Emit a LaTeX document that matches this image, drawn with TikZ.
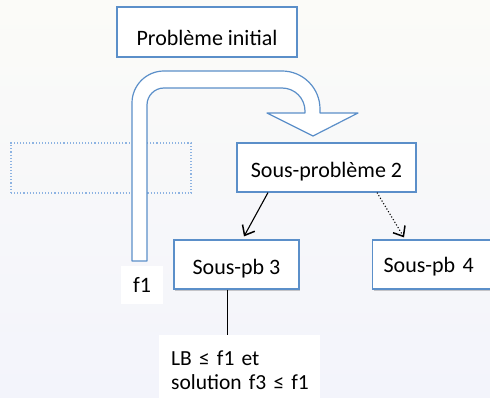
\documentclass[tikz,border=0pt]{standalone}
\usepackage{fontspec}
\setmainfont{Carlito}
\usetikzlibrary{arrows.meta,shadows}
\definecolor{boxblue}{HTML}{5B8FC9}
\definecolor{dotblue}{HTML}{8DB3E2}
\definecolor{bgtop}{HTML}{FBFBF8}
\definecolor{bgbot}{HTML}{F3F4FB}
\tikzset{
  x=1pt,y=1pt,
  box/.style={draw=boxblue, fill=white, line width=1.2pt, inner sep=0pt,
    drop shadow={shadow xshift=1pt, shadow yshift=-1.5pt, opacity=0.2, fill=black}},
  lbl/.style={font=\fontsize{22}{24}\selectfont},
  plain/.style={fill=white, inner sep=0pt},
  conn/.style={line width=1.1pt, -{Straight Barb[length=8.5pt,width=14pt,line width=1.5pt]}},
}
\begin{document}
\begin{tikzpicture}
\shade[top color=bgtop, bottom color=bgbot] (0,0) rectangle (490,-398);
\useasboundingbox (0,0) rectangle (490,-398);
% dotted box
\node[draw=dotblue, dotted, line width=1.1pt, minimum width=180, minimum height=50, inner sep=0pt] (dots) at (101,-168) {};
% bent arrow
\draw[boxblue, fill=white, line width=1.2pt, line join=round]
  (132,-261) -- (132,-103) arc[start angle=180, end angle=90, radius=32]
  -- (282,-71) arc[start angle=90, end angle=0, radius=38]
  -- (320,-113) -- (358,-113) -- (313,-136) -- (267,-113) -- (305,-113)
  -- (305,-111) arc[start angle=0, end angle=90, radius=23]
  -- (164,-88) arc[start angle=90, end angle=180, radius=17]
  -- (147,-261) -- cycle;
% boxes
\node[box, lbl, minimum width=180, minimum height=50, text height=31.5pt, text depth=4pt] (init) at (207,-32) {Problème initial};
\node[box, lbl, minimum width=179, minimum height=49, text height=23.5pt, text depth=4pt] (sp2) at (326.5,-167.5) {Sous-problème 2};
\node[box, lbl, minimum width=125, minimum height=49, text height=23.5pt, text depth=4pt] (sp3) at (236.5,-264.5) {Sous-pb 3};
\node[box, lbl, anchor=west, minimum height=49, inner xsep=11pt, text width=110pt, align=left, text height=19.5pt, text depth=4pt] (sp4) at (372,-264.5) {Sous-pb 4};
\node[plain, lbl, minimum width=42, minimum height=38] (f1) at (142,-285) {f1};
\node[plain, anchor=north west, inner xsep=12pt, inner ysep=10pt, text width=137pt, align=left, font=\fontsize{21.5}{24}\selectfont, minimum height=70] (res) at (159,-335) {\mbox{LB ≤ f1 et}\\\mbox{solution f3 ≤ f1}};
% connectors
\draw[conn] ([xshift=-58.5pt]sp2.south) -- ([xshift=7.5pt,yshift=3pt]sp3.north);
\draw[conn, dotted] ([xshift=50.5pt]sp2.south) -- ([xshift=32pt,yshift=2pt]sp4.north west);
\draw[line width=1pt] ([xshift=-9.5pt]sp3.south) -- ([xshift=-9.5pt]sp3.south |- res.north);
\end{tikzpicture}
\end{document}
